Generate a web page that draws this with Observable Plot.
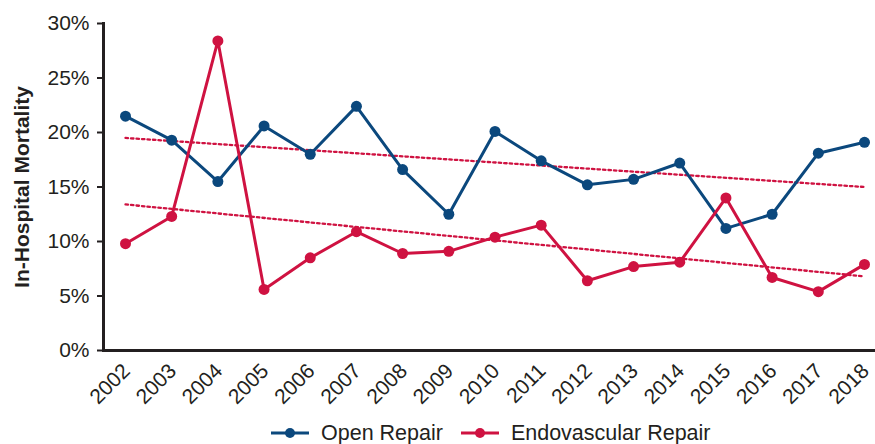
<!DOCTYPE html>
<html>
<head>
<meta charset="utf-8">
<script src="https://cdn.jsdelivr.net/npm/d3@7"></script>
<script src="https://cdn.jsdelivr.net/npm/@observablehq/plot@0.6"></script>
<style>
  body { margin: 0; background: #fff; font-family: "Liberation Sans", Arial, sans-serif; }
  #legend { display: flex; align-items: center; padding-left: 271px; height: 34px; margin-top: 6px; font-size: 21.5px; color: #231f20; }
  .item { display: flex; align-items: center; margin-right: 18px; }
  .item svg { margin-right: 12px; }
</style>
</head>
<body>
<div id="chart"></div>
<div id="legend"></div>
<script>
const years = [2002, 2003, 2004, 2005, 2006, 2007, 2008, 2009, 2010, 2011, 2012, 2013, 2014, 2015, 2016, 2017, 2018];
const openRepair = [21.5, 19.3, 15.5, 20.6, 18.0, 22.4, 16.6, 12.5, 20.1, 17.4, 15.2, 15.7, 17.2, 11.2, 12.5, 18.1, 19.1];
const endoRepair = [9.8, 12.3, 28.4, 5.6, 8.5, 10.9, 8.9, 9.1, 10.4, 11.5, 6.4, 7.7, 8.1, 14.0, 6.7, 5.4, 7.9];
const trendYears = [2002, 2018];
const openTrend = [19.5, 15.0];
const endoTrend = [13.4, 6.8];
const yTicks = [0, 5, 10, 15, 20, 25, 30];
const seriesNames = ["Open Repair", "Endovascular Repair"];
const colors = ["#0b487d", "#cf1241"];
const yLabel = "In-Hospital Mortality";

const openData = years.map((y, i) => ({year: y, value: openRepair[i]}));
const endoData = years.map((y, i) => ({year: y, value: endoRepair[i]}));
const openTrendData = trendYears.map((y, i) => ({year: y, value: openTrend[i]}));
const endoTrendData = trendYears.map((y, i) => ({year: y, value: endoTrend[i]}));

const ink = "#231f20";

const chart = Plot.plot({
  width: 875,
  height: 410,
  marginLeft: 103,
  marginRight: 0,
  marginTop: 23,
  marginBottom: 60,
  style: {fontFamily: "'Liberation Sans', Arial, sans-serif", fontSize: "21px", color: ink, background: "#fff"},
  x: {type: "linear", domain: [2002, 2018], range: [125, 864]},
  y: {domain: [0, 30]},
  marks: [
    Plot.axisY({ticks: yTicks, tickFormat: d => d + "%", tickSize: 6, tickPadding: 8, stroke: ink, strokeWidth: 2, fill: ink, label: null}),
    Plot.axisX({ticks: years, tickFormat: d => String(d), tickRotate: -45, tickSize: 0, tickPadding: 17, dx: 1, fill: ink, label: null}),
    Plot.text([yLabel], {frameAnchor: "left", textAnchor: "middle", rotate: -90, dx: -81, fontWeight: "bold", fontSize: 21, fill: ink}),
    Plot.line(openTrendData, {x: "year", y: "value", stroke: colors[1], strokeWidth: 2.3, strokeDasharray: "2.5 3"}),
    Plot.line(endoTrendData, {x: "year", y: "value", stroke: colors[1], strokeWidth: 2.3, strokeDasharray: "2.5 3"}),
    Plot.line(openData, {x: "year", y: "value", stroke: colors[0], strokeWidth: 3}),
    Plot.dot(openData, {x: "year", y: "value", fill: colors[0], r: 5.5}),
    Plot.line(endoData, {x: "year", y: "value", stroke: colors[1], strokeWidth: 3}),
    Plot.dot(endoData, {x: "year", y: "value", fill: colors[1], r: 5.5}),
    Plot.ruleY([0], {stroke: ink, strokeWidth: 3}),
    Plot.frame({anchor: "left", stroke: ink, strokeWidth: 3})
  ]
});
document.getElementById("chart").appendChild(chart);

const legend = document.getElementById("legend");
seriesNames.forEach((name, i) => {
  const item = document.createElement("div");
  item.className = "item";
  item.innerHTML = `<svg width="38" height="14"><line x1="0" y1="7" x2="38" y2="7" stroke="${colors[i]}" stroke-width="3"/><circle cx="19" cy="7" r="5" fill="${colors[i]}"/></svg><span>${name}</span>`;
  legend.appendChild(item);
});
</script>
</body>
</html>
